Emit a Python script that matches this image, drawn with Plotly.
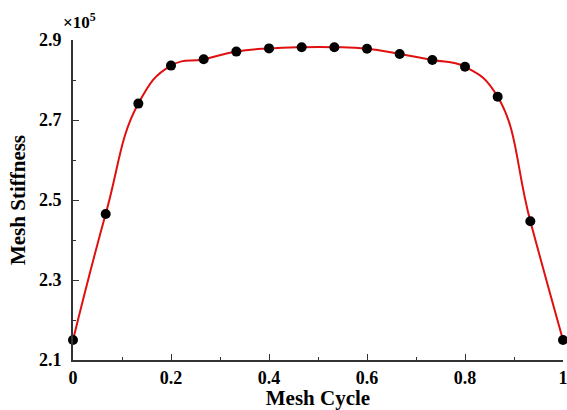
import plotly.graph_objects as go

x_vals = [0, 1/15, 2/15, 3/15, 4/15, 5/15, 6/15, 7/15, 8/15, 9/15, 10/15, 11/15, 12/15, 13/15, 14/15, 1]
stiffness = [2.150, 2.465, 2.741, 2.836, 2.852, 2.871, 2.879, 2.882, 2.882, 2.878, 2.865, 2.850, 2.833, 2.758, 2.447, 2.150]

x_ticks = [0, 0.2, 0.4, 0.6, 0.8, 1]
x_tick_labels = ["0", "0.2", "0.4", "0.6", "0.8", "1"]
y_ticks = [2.1, 2.3, 2.5, 2.7, 2.9]
y_tick_labels = ["2.1", "2.3", "2.5", "2.7", "2.9"]

font_family = "Liberation Serif"

fig = go.Figure()
fig.add_trace(go.Scatter(x=x_vals, y=stiffness, mode="lines",
                         line=dict(color="#e01010", width=2, shape="spline", smoothing=1.3),
                         hoverinfo="skip", showlegend=False, cliponaxis=False))
fig.add_trace(go.Scatter(x=x_vals, y=stiffness, mode="markers",
                         marker=dict(color="black", size=10),
                         showlegend=False, cliponaxis=False))

fig.update_layout(
    width=567, height=410,
    margin=dict(l=73, r=4, t=40, b=50),
    paper_bgcolor="white", plot_bgcolor="white",
    font=dict(family=font_family, color="black"),
    xaxis=dict(range=[0, 1], tickvals=x_ticks, ticktext=x_tick_labels, automargin=False,
               ticks="inside", ticklen=6, tickwidth=1, tickcolor="#333",
               showline=True, linecolor="#333", linewidth=2, showgrid=False, zeroline=False,
               tickfont=dict(size=18, family=font_family, weight="bold"),
               ticklabeloverflow="allow",
               minor=dict(tickvals=[0.1, 0.3, 0.5, 0.7, 0.9], ticks="inside", ticklen=3, tickcolor="#333"),
               title=dict(text="<b>Mesh Cycle</b>", font=dict(size=21, family=font_family), standoff=4)),
    yaxis=dict(range=[2.1, 2.9], tickvals=y_ticks, ticktext=y_tick_labels, automargin=False,
               ticks="inside", ticklen=6, tickwidth=1, tickcolor="#333",
               showline=True, linecolor="#333", linewidth=2, showgrid=False, zeroline=False,
               tickfont=dict(size=18, family=font_family, weight="bold"),
               ticklabelstandoff=6, ticklabeloverflow="allow",
               minor=dict(tickvals=[2.2, 2.4, 2.6, 2.8], ticks="inside", ticklen=3, tickcolor="#333"),
               title=dict(text="<b>Mesh Stiffness</b>", font=dict(size=21, family=font_family), standoff=8)),
    annotations=[dict(text="<b>×10<sup>5</sup></b>", x=0, y=1, xref="paper", yref="paper",
                      xanchor="center", yanchor="bottom", xshift=6, yshift=6, showarrow=False,
                      font=dict(size=17, family=font_family))],
)

fig.write_html("out.html", config={"displayModeBar": False},
               post_script="document.body.style.margin='0';document.body.style.overflow='hidden';")
